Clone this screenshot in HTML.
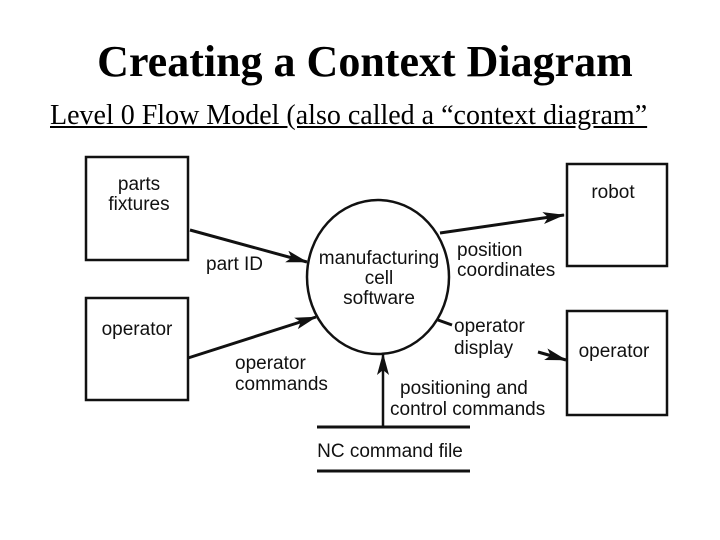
<!DOCTYPE html>
<html><head><style>
body{margin:0;background:#fff;width:720px;height:540px;overflow:hidden;position:relative}
.t{position:absolute;font-family:"Liberation Serif",serif;white-space:nowrap}
svg{position:absolute;left:0;top:0}
svg text{font-family:"Liberation Sans",sans-serif;font-size:19px;fill:#111}
</style></head><body>
<div class="t" style="left:0;width:730px;text-align:center;top:36px;font-size:44px;font-weight:bold">Creating a Context Diagram</div>
<div class="t" style="left:50px;top:100px;font-size:28px;text-decoration:underline">Level 0 Flow Model (also called a “context diagram”</div>
<svg width="720" height="540" viewBox="0 0 720 540">
<defs><marker id="b" markerWidth="22" markerHeight="12" refX="21" refY="6" orient="auto" markerUnits="userSpaceOnUse"><path d="M0,0 L22,6 L0,12 L5,6z" fill="#111"/></marker></defs>
<g fill="none" stroke="#111" stroke-width="2.5">
<rect x="86" y="157" width="102" height="103"/>
<rect x="86" y="298" width="102" height="102"/>
<rect x="567" y="164" width="100" height="102"/>
<rect x="567" y="311" width="100" height="104"/>
<ellipse cx="378" cy="277" rx="71" ry="77"/>
<line x1="190" y1="230" x2="307" y2="262" marker-end="url(#b)" stroke-width="3"/>
<line x1="188" y1="358" x2="316" y2="317" marker-end="url(#b)" stroke-width="3"/>
<line x1="440" y1="233" x2="564" y2="215" marker-end="url(#b)" stroke-width="3"/>
<line x1="438" y1="320" x2="452" y2="325" stroke-width="3"/>
<line x1="538" y1="352" x2="566" y2="360" marker-end="url(#b)" stroke-width="3"/>
<line x1="383" y1="427" x2="383" y2="354" marker-end="url(#b)" stroke-width="2.5"/>
<line x1="317" y1="427" x2="470" y2="427" stroke-width="3"/>
<line x1="317" y1="471" x2="470" y2="471" stroke-width="3"/>
</g>
<g text-anchor="middle">
<text x="139" y="190">parts</text>
<text x="139" y="210">fixtures</text>
<text x="137" y="335">operator</text>
<text x="613" y="198">robot</text>
<text x="614" y="357">operator</text>
<text x="379" y="264">manufacturing</text>
<text x="379" y="284">cell</text>
<text x="379" y="304">software</text>
<text x="390" y="457">NC command file</text>
</g>
<text x="206" y="270">part ID</text>
<text x="457" y="256">position</text>
<text x="457" y="276">coordinates</text>
<text x="454" y="332">operator</text>
<text x="454" y="354">display</text>
<text x="235" y="369">operator</text>
<text x="235" y="390">commands</text>
<text x="400" y="394">positioning and</text>
<text x="390" y="415">control commands</text>
</svg>
</body></html>
